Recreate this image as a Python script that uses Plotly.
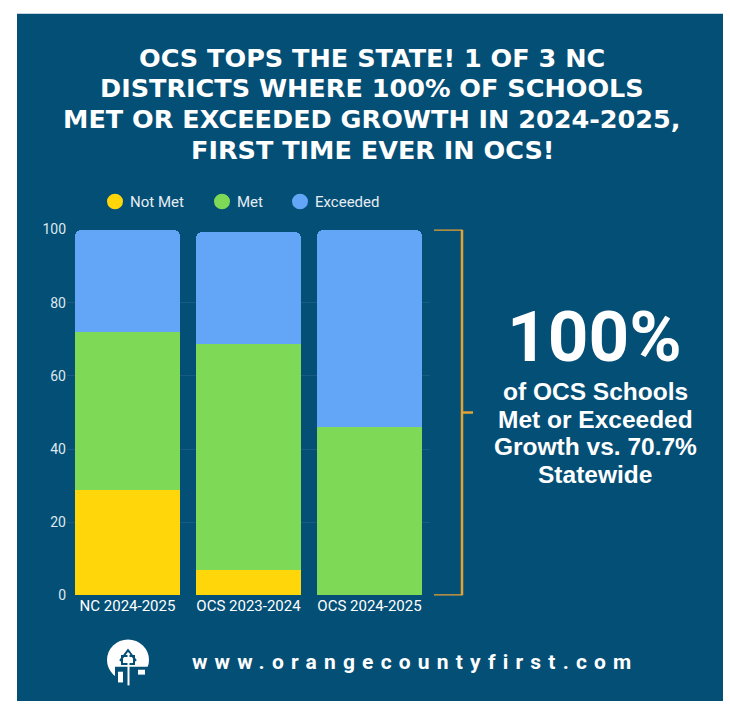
import plotly.graph_objects as go

# ---- data ----
categories = ["NC 2024-2025", "OCS 2023-2024", "OCS 2024-2025"]
not_met = [28.9, 7.0, 0.0]
met = [43.0, 61.6, 46.0]
exceeded = [28.1, 30.8, 54.0]
series_names = ["Not Met", "Met", "Exceeded"]
y_ticks = [0, 20, 40, 60, 80, 100]

title_lines = [
    "OCS TOPS THE STATE! 1 OF 3 NC",
    "DISTRICTS WHERE 100% OF SCHOOLS",
    "MET OR EXCEEDED GROWTH IN 2024-2025,",
    "FIRST TIME EVER IN OCS!",
]
big_number = "100%"
side_lines = ["of OCS Schools", "Met or Exceeded", "Growth vs. 70.7%", "Statewide"]
url_text = "www.orangecountyfirst.com"

# ---- style ----
W, H = 730, 710
BG = "#044f76"
COLORS = ["#ffd60a", "#7ed957", "#63a6f8"]
ORANGE = "#e6a232"
FONT = "Roboto"
TITLE_FONT = "DejaVu Sans"
SIDE_FONT = "Liberation Sans"
LEGEND_X = [115, 222, 300]   # legend marker centres (px)
LEGEND_Y = 198


def px(x):
    return x / W


def py(y):
    return 1 - y / H


fig = go.Figure()
for name, vals, col in zip(series_names, [not_met, met, exceeded], COLORS):
    fig.add_trace(go.Bar(x=categories, y=vals, name=name, marker_color=col,
                         marker_line_width=0, showlegend=False))

shapes = [
    # blue panel
    dict(type="rect", xref="paper", yref="paper", x0=px(17), x1=px(723),
         y0=py(709), y1=py(6), fillcolor=BG, line_width=0, layer="below"),
    # bracket
    dict(type="line", xref="paper", yref="y", x0=px(434), x1=px(462), y0=100, y1=100,
         line=dict(color=ORANGE, width=2.5)),
    dict(type="line", xref="paper", yref="y", x0=px(462), x1=px(462), y0=0, y1=100,
         line=dict(color=ORANGE, width=2.5)),
    dict(type="line", xref="paper", yref="y", x0=px(434), x1=px(462), y0=0, y1=0,
         line=dict(color=ORANGE, width=2.5)),
    dict(type="line", xref="paper", yref="y", x0=px(462), x1=px(473), y0=50, y1=50,
         line=dict(color=ORANGE, width=2.5)),
    # logo
    dict(type="circle", xref="paper", yref="paper", x0=px(107), x1=px(149),
         y0=py(688), y1=py(646), fillcolor="white", line_width=0),
    dict(type="rect", xref="paper", yref="paper", x0=px(115), x1=px(148),
         y0=py(690), y1=py(674), fillcolor=BG, line_width=0),
    dict(type="rect", xref="paper", yref="paper", x0=px(118), x1=px(123),
         y0=py(690), y1=py(679), fillcolor="white", line_width=0),
    dict(type="rect", xref="paper", yref="paper", x0=px(138), x1=px(145),
         y0=py(682), y1=py(677), fillcolor="white", line_width=0),
    dict(type="path", xref="paper", yref="paper",
         path=f"M {px(120)},{py(668)} L {px(128)},{py(657)} L {px(136)},{py(668)}",
         line=dict(color=BG, width=2)),
    dict(type="rect", xref="paper", yref="paper", x0=px(122), x1=px(134),
         y0=py(671), y1=py(663), fillcolor="rgba(0,0,0,0)", line=dict(color=BG, width=2)),
    dict(type="line", xref="paper", yref="paper", x0=px(128.5), x1=px(128.5),
         y0=py(693), y1=py(660), line=dict(color="white", width=2)),
]

annotations = []
# legend (round markers + labels)
for name, col, lx in zip(series_names, COLORS, LEGEND_X):
    shapes.append(dict(type="circle", xref="paper", yref="paper",
                       x0=px(lx - 8), x1=px(lx + 8), y0=py(LEGEND_Y + 8), y1=py(LEGEND_Y - 8),
                       fillcolor=col, line_width=0))
    annotations.append(dict(text=name, x=px(lx + 14), y=py(LEGEND_Y), xref="paper", yref="paper",
                            showarrow=False, xanchor="left", yanchor="middle", borderpad=0,
                            font=dict(family=FONT, size=15, color="#e6edf3")))

title_y = [51, 82, 113.5, 145]
for t, yy in zip(title_lines, title_y):
    annotations.append(dict(text=f"<b>{t}</b>", x=px(372), y=py(yy), xref="paper", yref="paper",
                            showarrow=False, xanchor="center", yanchor="middle", borderpad=0,
                            font=dict(family=TITLE_FONT, size=25.5, color="white")))
annotations.append(dict(text=f"<b>{big_number}</b>", x=px(594), y=py(336), xref="paper",
                        yref="paper", showarrow=False, xanchor="center", yanchor="middle",
                        borderpad=0, font=dict(family=FONT, size=71, color="white")))
side_y = [392, 420.5, 449, 477]
for t, yy in zip(side_lines, side_y):
    annotations.append(dict(text=f"<b>{t}</b>", x=px(595), y=py(yy), xref="paper", yref="paper",
                            showarrow=False, xanchor="center", yanchor="middle", borderpad=0,
                            font=dict(family=SIDE_FONT, size=24.5, color="white")))
annotations.append(dict(text=f'<b><span style="letter-spacing:7.2px">{url_text}</span></b>',
                        x=px(190), y=py(669), xref="paper", yref="paper",
                        showarrow=False, xanchor="left", yanchor="middle",
                        font=dict(family=FONT, size=21, color="white")))

fig.update_layout(
    width=W, height=H,
    margin=dict(l=0, r=0, t=0, b=0),
    paper_bgcolor="white",
    plot_bgcolor="rgba(0,0,0,0)",
    barmode="stack",
    bargap=0.13,
    barcornerradius=7,
    showlegend=False,
    font=dict(family=FONT, color="white"),
    xaxis=dict(domain=[px(67), px(430)], showgrid=False, zeroline=False, showline=False,
               ticks="", tickfont=dict(family=FONT, size=15, color="white")),
    yaxis=dict(domain=[py(601), py(226.7)], range=[0, 100], tickvals=y_ticks,
               showgrid=True, gridcolor="#175b82", gridwidth=1, zeroline=False,
               showline=False, ticks="", tickfont=dict(family=FONT, size=14, color="#dfe7ee")),
    shapes=shapes,
    annotations=annotations,
)

fig.write_html("out.html", config={"displayModeBar": False},
               post_script="document.body.style.margin='0';document.body.style.overflow='hidden';")
